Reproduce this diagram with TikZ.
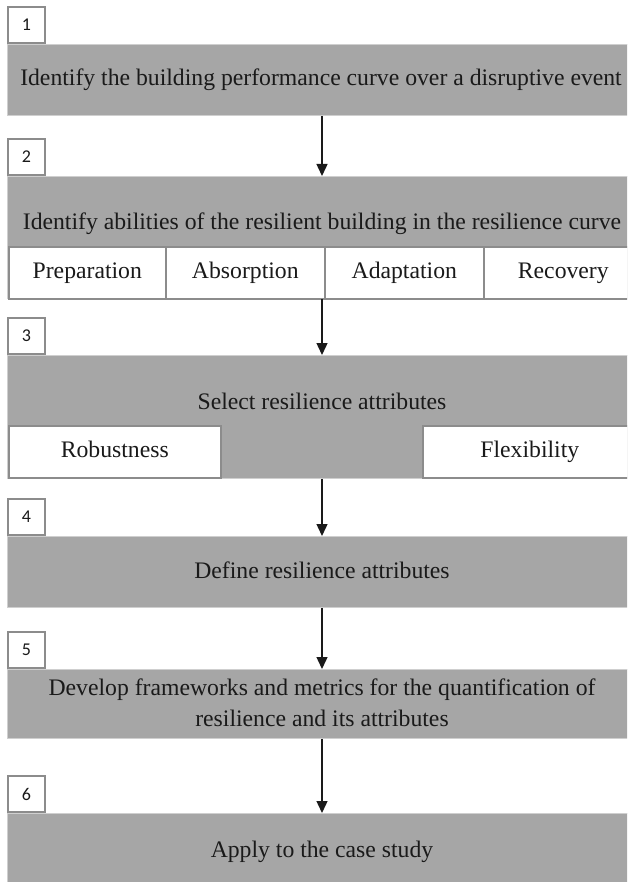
\documentclass[tikz,border=0pt]{standalone}
\usepackage{fontspec}
\setmainfont{Liberation Serif}
\newfontfamily\numfont{Carlito}
\usetikzlibrary{arrows.meta}

\definecolor{bandgray}{HTML}{A6A6A6}
\definecolor{bandedge}{HTML}{CFCFCF}
\definecolor{boxgray}{HTML}{8C8C8C}
\definecolor{inkblack}{HTML}{1A1A1A}

\newcommand{\steptextfont}{\fontsize{23.7}{31}\selectfont}

\tikzset{
  band/.style={rectangle, fill=bandgray, draw=bandedge, line width=0.8pt,
    minimum width=630pt, inner sep=0pt, anchor=north west},
  numbox/.style={rectangle, draw=boxgray, line width=1.8pt, fill=white,
    minimum width=37pt, minimum height=36pt, inner sep=0pt,
    font=\numfont\fontsize{18}{18}\selectfont, text=inkblack, anchor=south west},
  subbox/.style={rectangle, draw=boxgray, line width=1.6pt, fill=white,
    minimum height=52pt, inner sep=0pt, text height=16pt, text depth=5pt,
    anchor=north west, font=\steptextfont, text=inkblack},
  steptext/.style={font=\steptextfont, text=inkblack, inner sep=0pt, align=center},
  flow/.style={-{Triangle[length=12pt,width=11pt]}, line width=1.4pt, draw=inkblack}
}

\begin{document}
\begin{tikzpicture}[x=1pt,y=-1pt]
\useasboundingbox (0,0) rectangle (627,882);
\clip (0,0) rectangle (627,882);

% step bands
\node[band, minimum height=71pt]  (b1) at (7,44)  {};
\node[band, minimum height=122pt] (b2) at (7,176) {};
\node[band, minimum height=123pt] (b3) at (7,355) {};
\node[band, minimum height=71pt]  (b4) at (7,536) {};
\node[band, minimum height=69pt]  (b5) at (7,669) {};
\node[band, minimum height=71pt]  (b6) at (7,813) {};

% step numbers
\node[numbox] (n1) at (b1.north west) {1};
\node[numbox] (n2) at (b2.north west) {2};
\node[numbox] (n3) at (b3.north west) {3};
\node[numbox] (n4) at (b4.north west) {4};
\node[numbox] (n5) at (b5.north west) {5};
\node[numbox] (n6) at (b6.north west) {6};

% step texts
\node[steptext, anchor=base] (t1) at (321,86)  {Identify the building performance curve over a disruptive event};
\node[steptext, anchor=base] (t2) at (322,230) {Identify abilities of the resilient building in the resilience curve};
\node[steptext, anchor=base] (t3) at (322,409) {Select resilience attributes};
\node[steptext, anchor=base] (t4) at (322,578) {Define resilience attributes};
\node[steptext] (t5) at (322,703) {Develop frameworks and metrics for the quantification of\\resilience and its attributes};
\node[steptext, anchor=base] (t6) at (322,857) {Apply to the case study};

% abilities
\node[subbox, minimum width=157pt] (s1) at (8,246)   {Preparation};
\node[subbox, minimum width=159pt] (s2) at (165,246) {Absorption};
\node[subbox, minimum width=159pt] (s3) at (324,246) {Adaptation};
\node[subbox, minimum width=159pt] (s4) at (483,246) {Recovery};

% attributes
\node[subbox, minimum width=212pt] (r1) at (8,425)   {Robustness};
\node[subbox, minimum width=214pt] (r2) at (422,425) {Flexibility};

% flow arrows
\coordinate (ax) at (322,0);
\draw[flow] (b1.south -| ax) -- (b2.north -| ax);
\draw[flow] (b2.south -| ax) -- (b3.north -| ax);
\draw[flow] (b3.south -| ax) -- (b4.north -| ax);
\draw[flow] (b4.south -| ax) -- (b5.north -| ax);
\draw[flow] (b5.south -| ax) -- (b6.north -| ax);
\end{tikzpicture}
\end{document}
